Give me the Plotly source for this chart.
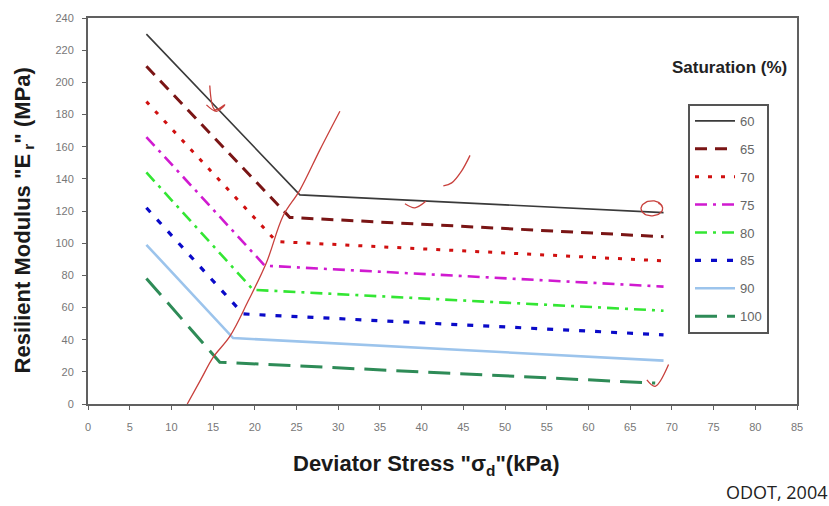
import numpy as np
import plotly.graph_objects as go

# Resilient modulus vs deviator stress for several saturation levels (bilinear model)
saturation = ["60", "65", "70", "75", "80", "85", "90", "100"]
stress_pts = {
    "60": [7, 25.4, 69],
    "65": [7, 24.2, 69],
    "70": [7, 22.6, 69],
    "75": [7, 21.2, 69],
    "80": [7, 19.8, 69],
    "85": [7, 18.6, 69],
    "90": [7, 17.4, 69],
    "100": [7, 15.8, 68],
}
modulus_pts = {
    "60": [230, 130, 119],
    "65": [210, 116, 104],
    "70": [188, 101, 89],
    "75": [166, 86, 73],
    "80": [144, 71, 58],
    "85": [122, 56, 43],
    "90": [99, 41, 27],
    "100": [78, 26, 13],
}
colors = {
    "60": "#3a3a3a",
    "65": "#7a1515",
    "70": "#d01010",
    "75": "#d01ad0",
    "80": "#33e633",
    "85": "#0a0ac8",
    "90": "#9cc4ec",
    "100": "#2e8b57",
}
dashes = {
    "60": "solid",
    "65": "12px,8px",
    "70": "4px,9px",
    "75": "12px,6px,3px,6px",
    "80": "12px,6px,3px,6px",
    "85": "6px,10px",
    "90": "solid",
    "100": "22px,10px",
}
widths = {"60": 1.6, "65": 3, "70": 3, "75": 2.6, "80": 2.6, "85": 3.2, "90": 2.6, "100": 3}

# Hand-drawn red markup over the chart
markup_curve_x = [11.9, 13.5, 15.0, 17.0, 19.2, 21.4, 23.4, 25.4, 27.8, 30.2]
markup_curve_y = [0, 15, 29, 42, 64, 88, 117, 133, 158, 182]
stroke_x = [42.6, 43.6, 44.8, 45.8]
stroke_y = [135.6, 137.5, 145, 154.6]
tick_x = [38.0, 39.2, 40.5]
tick_y = [124.5, 122.0, 126.0]
check_x = [67.0, 68.0, 69.6]
check_y = [15.0, 11.0, 24.5]
vmark_x = [14.2, 15.4, 16.4, 15.2, 14.6]
vmark_y = [186, 182, 186, 183, 198]

fig = go.Figure()

for s in saturation:
    fig.add_trace(go.Scatter(
        x=stress_pts[s], y=modulus_pts[s], mode="lines", name=s,
        legendgroup=s,
        line=dict(color=colors[s], width=widths[s], dash=dashes[s]),
    ))

red = "#c8403c"
for xs, ys in [(markup_curve_x, markup_curve_y), (stroke_x, stroke_y),
               (tick_x, tick_y), (check_x, check_y), (vmark_x, vmark_y)]:
    fig.add_trace(go.Scatter(x=xs, y=ys, mode="lines", showlegend=False,
                             line=dict(color=red, width=1.3, shape="spline"),
                             hoverinfo="skip"))

# circled end of the 60% line
t = np.linspace(0, 2 * np.pi * 1.15, 60)
fig.add_trace(go.Scatter(x=67.6 + 1.3 * np.cos(t), y=121.5 + 5 * np.sin(t) * (1 - 0.15 * t / 7),
                         mode="lines", showlegend=False, hoverinfo="skip",
                         line=dict(color=red, width=1.3)))

axis_common = dict(
    showgrid=False, zeroline=False, showline=True, linecolor="#606060", linewidth=2,
    mirror=True, ticks="outside", ticklen=4, tickcolor="#606060",
    tickfont=dict(family="Liberation Sans, Arial", size=11, color="#777"),
)

# plot area spans x 88..797 px, y 13..404 px
L, R, T, B = 88, 797, 13, 404


def px(xp):
    return (xp - L) / (R - L)


def py(yp):
    return (B - yp) / (B - T)


fig.update_layout(
    width=829, height=506,
    margin=dict(l=L, r=829 - R, t=T, b=506 - B),
    paper_bgcolor="white", plot_bgcolor="white",
    xaxis=dict(range=[0, 85], dtick=5, ticklabelstandoff=8, **axis_common),
    yaxis=dict(range=[0, 240], dtick=20, ticklabelstandoff=6, **axis_common),
    legend=dict(
        x=px(688), y=py(100), xanchor="left", yanchor="top",
        bgcolor="white", bordercolor="#555", borderwidth=2,
        font=dict(family="Liberation Sans, Arial", size=13, color="#666"),
        tracegroupgap=8, itemwidth=40,
    ),
    showlegend=True,
    annotations=[
        dict(text="<b>Saturation (%)</b>", x=px(729), y=py(63),
             xref="paper", yref="paper", xanchor="center", yanchor="middle",
             showarrow=False, font=dict(family="Liberation Sans, Arial", size=17, color="#222")),
        dict(text='<b>Resilient Modulus "E<sub> r</sub>" (MPa)</b>', textangle=-90,
             x=px(24), y=py(218), xref="paper", yref="paper",
             xanchor="center", yanchor="middle", showarrow=False,
             font=dict(family="Liberation Sans, Arial", size=22, color="#1a1a1a")),
        dict(text='<b>Deviator Stress "σ<sub>d</sub>"(kPa)</b>',
             x=px(426), y=py(466), xref="paper", yref="paper",
             xanchor="center", yanchor="middle", showarrow=False,
             font=dict(family="Liberation Sans, Arial", size=22, color="#1a1a1a")),
        dict(text="ODOT, 2004", x=px(829), y=py(493), xref="paper", yref="paper",
             xanchor="right", yanchor="middle", showarrow=False,
             font=dict(family="Open Sans, Liberation Sans", size=18, color="#222")),
    ],
)

fig.write_html("out.html")
